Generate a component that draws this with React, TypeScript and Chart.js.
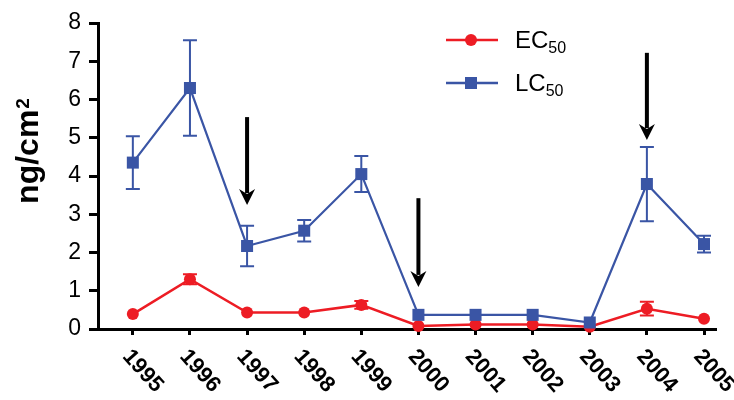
import React, { useEffect, useRef } from "react";
import { Chart, registerables } from "chart.js";

Chart.register(...registerables);

const years = [1995, 1996, 1997, 1998, 1999, 2000, 2001, 2002, 2003, 2004, 2005];
const ec50 = [0.39, 1.3, 0.43, 0.43, 0.63, 0.08, 0.12, 0.12, 0.06, 0.53, 0.27];
const ec50Err = [0, 0.13, 0, 0, 0.1, 0, 0, 0, 0, 0.18, 0];
const lc50 = [4.35, 6.3, 2.17, 2.57, 4.05, 0.37, 0.37, 0.37, 0.17, 3.79, 2.22];
const lc50Err = [0.69, 1.25, 0.53, 0.28, 0.47, 0, 0, 0, 0, 0.97, 0.22];
const yTicks = [0, 1, 2, 3, 4, 5, 6, 7, 8];
const arrowYears = [1997, 2000, 2004];
const arrowFrom = [5.54, 3.42, 7.22];
const arrowTo = [3.24, 1.1, 4.94];

const RED = "#ED1C24";
const BLUE = "#3A55A5";
const FONT = "'Liberation Sans', Arial, sans-serif";

const errorBarPlugin = {
  id: "errorBars",
  beforeDatasetsDraw(chart: any) {
    const ctx = chart.ctx;
    const xs = chart.scales.x;
    const ys = chart.scales.y;
    const sets = [
      { vals: lc50, errs: lc50Err, color: BLUE },
      { vals: ec50, errs: ec50Err, color: RED },
    ];
    ctx.save();
    for (const s of sets) {
      ctx.strokeStyle = s.color;
      ctx.lineWidth = 2;
      s.vals.forEach((v, i) => {
        const e = s.errs[i];
        if (!e) return;
        const x = xs.getPixelForValue(years[i]);
        const yt = ys.getPixelForValue(v + e);
        const yb = ys.getPixelForValue(v - e);
        ctx.beginPath();
        ctx.moveTo(x, yt);
        ctx.lineTo(x, yb);
        ctx.moveTo(x - 7, yt);
        ctx.lineTo(x + 7, yt);
        ctx.moveTo(x - 7, yb);
        ctx.lineTo(x + 7, yb);
        ctx.stroke();
      });
    }
    ctx.restore();
  },
};

const decorPlugin = {
  id: "decor",
  afterDraw(chart: any) {
    const ctx = chart.ctx;
    const xs = chart.scales.x;
    const ys = chart.scales.y;
    ctx.save();
    // arrows
    ctx.fillStyle = "#000";
    ctx.strokeStyle = "#000";
    arrowYears.forEach((yr, i) => {
      const x = xs.getPixelForValue(yr);
      const y0 = ys.getPixelForValue(arrowFrom[i]);
      const y1 = ys.getPixelForValue(arrowTo[i]);
      const headLen = 16;
      ctx.lineWidth = 4;
      ctx.beginPath();
      ctx.moveTo(x, y0);
      ctx.lineTo(x, y1 - headLen + 4);
      ctx.stroke();
      ctx.beginPath();
      ctx.moveTo(x, y1);
      ctx.lineTo(x - 8, y1 - headLen);
      ctx.lineTo(x, y1 - headLen + 5);
      ctx.lineTo(x + 8, y1 - headLen);
      ctx.closePath();
      ctx.fill();
    });

    // x labels
    ctx.fillStyle = "#000";
    ctx.font = `bold 22px ${FONT}`;
    ctx.textAlign = "left";
    ctx.textBaseline = "alphabetic";
    years.forEach((yr) => {
      const x = xs.getPixelForValue(yr);
      ctx.save();
      ctx.translate(x - 11, 357);
      ctx.rotate((48 * Math.PI) / 180);
      ctx.fillText(String(yr), 0, 0);
      ctx.restore();
    });

    // y title
    ctx.save();
    ctx.translate(38, 151);
    ctx.rotate(-Math.PI / 2);
    ctx.font = `bold 32px ${FONT}`;
    ctx.textBaseline = "alphabetic";
    const main = "ng/cm";
    const wMain = ctx.measureText(main).width;
    ctx.font = `bold 19px ${FONT}`;
    const wSup = ctx.measureText("2").width;
    const total = wMain + wSup + 1;
    ctx.font = `bold 32px ${FONT}`;
    ctx.textAlign = "left";
    ctx.fillText(main, -total / 2, 0);
    ctx.font = `bold 19px ${FONT}`;
    ctx.fillText("2", -total / 2 + wMain + 1, -9);
    ctx.restore();

    // legend
    const items = [
      { label: "EC", sub: "50", color: RED, style: "circle", y: 40 },
      { label: "LC", sub: "50", color: BLUE, style: "rect", y: 83 },
    ];
    for (const it of items) {
      ctx.strokeStyle = it.color;
      ctx.fillStyle = it.color;
      ctx.lineWidth = 2.5;
      ctx.beginPath();
      ctx.moveTo(446, it.y);
      ctx.lineTo(498, it.y);
      ctx.stroke();
      if (it.style === "circle") {
        ctx.beginPath();
        ctx.arc(471, it.y, 6, 0, Math.PI * 2);
        ctx.fill();
      } else {
        ctx.fillRect(465, it.y - 6, 12, 12);
      }
      ctx.fillStyle = "#000";
      ctx.textAlign = "left";
      ctx.textBaseline = "alphabetic";
      ctx.font = `24px ${FONT}`;
      ctx.fillText(it.label, 515, it.y + 8);
      const w = ctx.measureText(it.label).width;
      ctx.font = `16px ${FONT}`;
      ctx.fillText(it.sub, 515 + w, it.y + 13);
    }
    ctx.restore();
  },
};

export default function App() {
  const ref = useRef<HTMLCanvasElement | null>(null);
  useEffect(() => {
    if (!ref.current) return;
    const chart = new Chart(ref.current, {
      type: "line",
      data: {
        datasets: [
          {
            label: "EC50",
            data: years.map((x, i) => ({ x, y: ec50[i] })),
            borderColor: RED,
            backgroundColor: RED,
            borderWidth: 2.5,
            pointStyle: "circle",
            pointRadius: 6,
            pointBorderWidth: 0,
            pointBackgroundColor: RED,
            clip: false as any,
            order: 1,
          },
          {
            label: "LC50",
            data: years.map((x, i) => ({ x, y: lc50[i] })),
            borderColor: BLUE,
            backgroundColor: BLUE,
            borderWidth: 2.2,
            pointStyle: "rect",
            pointRadius: 8.5,
            pointBorderWidth: 0,
            pointBackgroundColor: BLUE,
            clip: false as any,
            order: 0,
          },
        ],
      },
      options: {
        animation: false,
        responsive: true,
        maintainAspectRatio: false,
        layout: { padding: { top: 23, right: 18, left: 0, bottom: 0 } },
        plugins: { legend: { display: false }, tooltip: { enabled: false } },
        scales: {
          x: {
            type: "linear",
            min: 1994.39,
            max: 2005.21,
            afterBuildTicks: (s: any) => {
              s.ticks = years.map((v) => ({ value: v }));
            },
            afterFit: (s: any) => {
              s.height = 71;
            },
            ticks: { display: false },
            grid: {
              drawOnChartArea: false,
              drawTicks: true,
              tickLength: 6,
              tickWidth: 3,
              tickColor: "#000",
            },
            border: { color: "#000", width: 3 },
          },
          y: {
            type: "linear",
            min: 0,
            max: 8,
            afterBuildTicks: (s: any) => {
              s.ticks = yTicks.map((v) => ({ value: v }));
            },
            afterFit: (s: any) => {
              s.width = 98;
            },
            ticks: {
              color: "#000",
              font: { family: FONT, size: 23 },
              padding: 8,
            },
            grid: {
              drawOnChartArea: false,
              drawTicks: true,
              tickLength: 9,
              tickWidth: 3,
              tickColor: "#000",
            },
            border: { color: "#000", width: 3 },
          },
        },
      },
      plugins: [errorBarPlugin, decorPlugin],
    });
    return () => chart.destroy();
  }, []);
  return (
    <div style={{ position: "absolute", left: 0, top: 0, width: 734, height: 400, background: "#fff" }}>
      <canvas ref={ref} />
    </div>
  );
}
